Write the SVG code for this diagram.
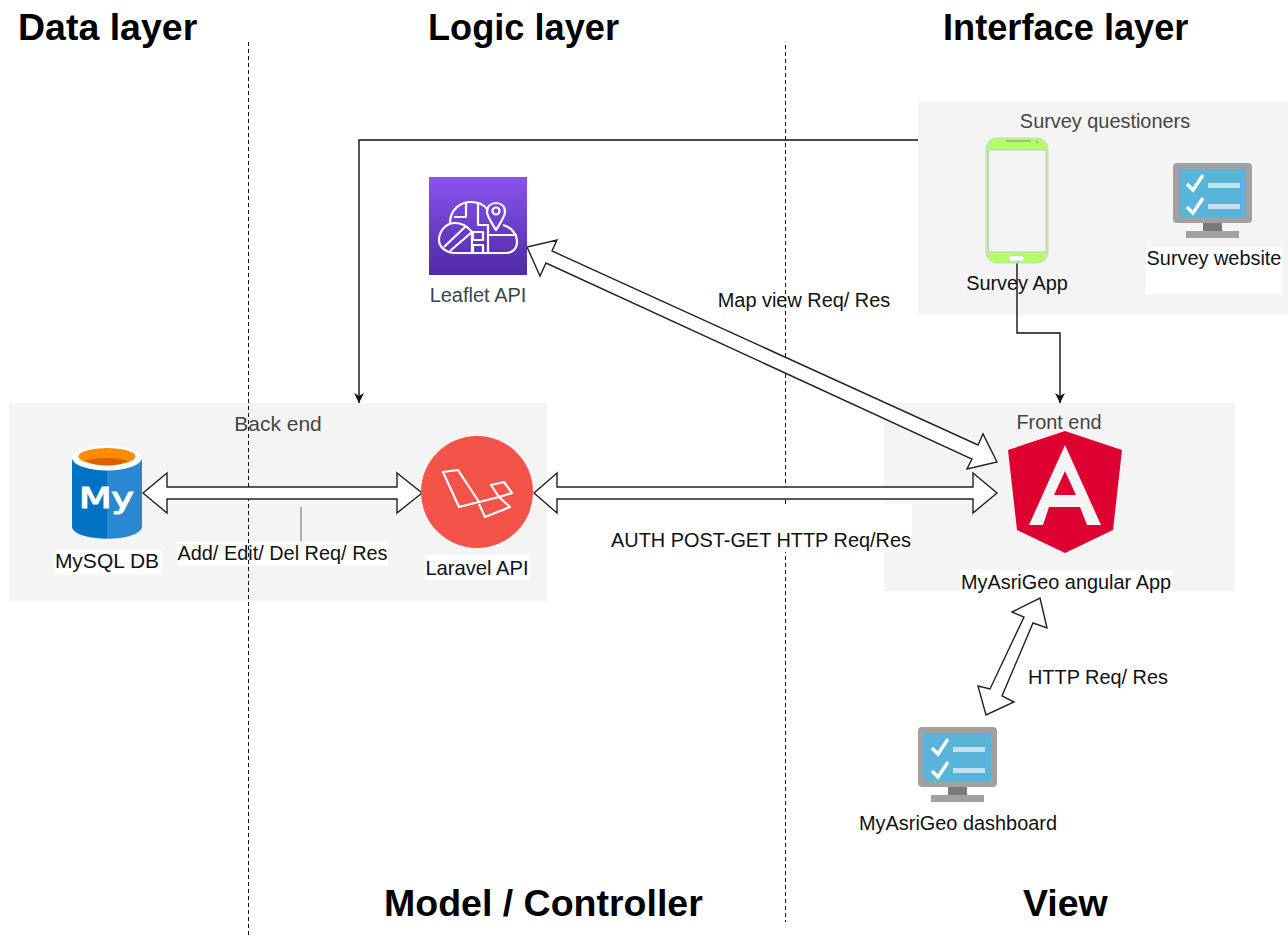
<svg xmlns="http://www.w3.org/2000/svg" xmlns:xlink="http://www.w3.org/1999/xlink" width="1288" height="938" viewBox="0 0 1288 938">
<style>
text{font-family:"Liberation Sans",Arial,sans-serif}
.t{font-size:36.200px;font-weight:700;fill:#000}
.w2{font-size:37.500px}
.l{font-size:19.900px;fill:#111;text-anchor:middle}
.g{font-size:19.900px;fill:#444;text-anchor:middle}
.box{fill:#f4f4f4}
.lab{fill:#fff}
.dash{stroke:#111;stroke-width:1;stroke-dasharray:4 3;fill:none}
.wire{stroke:#111;stroke-width:1.4;fill:none}
.dbl{fill:#fff;stroke:#222;stroke-width:1.4;stroke-linejoin:miter}
.w{fill:none;stroke:#fff;stroke-width:2.2;stroke-linejoin:round}
</style>
<defs>
<marker id="tip" markerWidth="12" markerHeight="12" refX="10" refY="5" orient="auto" markerUnits="userSpaceOnUse" viewBox="0 0 12 10"><path d="M0 0L10 5L0 10L3 5Z" fill="#111"/></marker>
<linearGradient id="pur" x1="0" y1="0" x2="0" y2="1"><stop offset="0" stop-color="#8A53EF"/><stop offset="1" stop-color="#4F2AA6"/></linearGradient>
<g id="mon">
<rect x="0" y="0" width="79" height="60" rx="4" fill="#a0a1a2"/>
<rect x="6" y="6" width="67" height="48" fill="#59b4d9"/>
<rect x="30" y="60" width="19" height="9" fill="#7a7a7a"/>
<rect x="13" y="68" width="53" height="7" fill="#a0a1a2"/>
<path d="M14 21L20 27L30 12M14 44L20 50L30 35" fill="none" stroke="#fff" stroke-width="3.400"/>
<rect x="35" y="20" width="32" height="5" fill="#c4e3f0"/><rect x="35" y="41" width="32" height="5" fill="#c4e3f0"/>
</g>
</defs>

<g id="group-backend"><rect class="box" x="9" y="403" width="538" height="198"/></g>
<g id="group-frontend"><rect class="box" x="884" y="403" width="351" height="188"/></g>
<g id="group-survey"><rect class="box" x="918" y="102" width="370" height="213"/></g>

<g id="titles">
<text class="t w2" x="18" y="40">Data layer</text>
<text class="t" x="428" y="40">Logic layer</text>
<text class="t" x="943" y="40">Interface layer</text>
<text class="t w2" x="384" y="916">Model / Controller</text>
<text class="t w2" x="1023" y="916">View</text>
</g>

<text class="g" x="278" y="431" style="font-size:21px">Back end</text>

<g id="edge-label-add">
<rect class="lab" x="177" y="542" width="211" height="24"/>
<text class="l" x="282.500" y="560">Add/ Edit/ Del Req/ Res</text>
</g>

<g id="dividers">
<path class="dash" d="M248.500 42V937"/>
<path class="dash" d="M785.500 45V922"/>
</g>

<g id="connectors">
<path class="wire" d="M918 140H359V403" marker-end="url(#tip)"/>
<path class="wire" d="M1017 263V333H1060V403" marker-end="url(#tip)"/>
<path d="M301 507V541" stroke="#666" stroke-width="1" fill="none"/>
<polygon class="dbl" points="143,493 167,473 167,487 397,487 397,473 422,493 397,513 397,499 167,499 167,513"/>
<polygon class="dbl" points="534,493 557,473 557,487 973,487 973,473 997,493 973,513 973,499 557,499 557,513"/>
<polygon class="dbl" points="527,247 540,276 546,263 972,459 967,469 997,462 983,434 978,445 552,251 557,240"/>
<polygon class="dbl" points="1040,598 1047,628 1033,623 1002,696 1014,702 986,715 978,686 990,689 1024,617 1012,612"/>
</g>

<g id="mysql">
<path d="M72 459V526C72 543 142 543 142 526V459Z" fill="#2a88d0"/>
<path d="M72 459V526C72 534 90 538 107 538V459Z" fill="#0072c6"/>
<ellipse cx="107" cy="458" rx="35" ry="12.500" fill="#fff"/>
<ellipse cx="107" cy="456.500" rx="28.500" ry="8.500" fill="#ff8c00"/>
<path d="M86 461C95 457 119 457 128 461C119 467 95 467 86 461Z" fill="#dd5f00"/>
<text x="79" y="508" font-size="27.500" fill="#fff" stroke="#fff" stroke-width="1.200" textLength="55" lengthAdjust="spacingAndGlyphs" style="font-family:'DejaVu Sans',sans-serif">My</text>
<rect class="lab" x="54" y="550" width="108" height="25"/>
<text class="l" x="107" y="568" style="font-size:21px">MySQL DB</text>
</g>

<g id="laravel">
<circle cx="477" cy="492" r="56" fill="#f4534a"/>
<path class="w" d="M443 472L458 470L479 502L459 507ZM459 507L499 497L491 485L504 482L512 493L499 497L510 507L485 517L479 504"/>
<rect class="lab" x="425" y="555" width="105" height="25"/>
<text class="l" x="477" y="575" style="font-size:20.200px">Laravel API</text>
</g>

<g id="leaflet">
<rect x="429" y="177" width="98" height="98" fill="url(#pur)"/>
<path class="w" d="M450 223C450 210 460 202 471 202C478 202 484 205 487 209M503 225C511 227 517 234 517 242C517 249 512 253 506 253H455C446 253 439 247 439 240C439 231 446 223 455 223C462 223 468 227 472 232"/>
<path class="w" d="M466 202V217H454M478 204V225H488V253M488 235H517M444 247L466 226M450 251L472 232V253"/>
<rect class="w" x="473" y="232" width="10" height="8"/>
<rect class="w" x="473" y="245" width="10" height="8"/>
<path class="w" d="M496 230C490 220 487 216 487 212C487 206 491 203 496 203C501 203 505 206 505 212C505 216 502 220 496 230Z"/>
<circle cx="496" cy="211" r="3.500" class="w"/>
<text x="478" y="302" font-size="20" fill="#37474f" text-anchor="middle">Leaflet API</text>
</g>

<g id="survey-app">
<rect x="986" y="138" width="62" height="125" rx="11" fill="#b3ff66" stroke="#cfcfcf" stroke-width="1"/>
<rect x="988.500" y="150" width="57.500" height="102" fill="#f4f4f4" stroke="#c8c8c8" stroke-width="1"/>
<rect x="1009" y="256" width="15" height="5" rx="2" fill="#fff" stroke="#bdbdbd" stroke-width="0.500"/>
<rect x="1006" y="140" width="25" height="2" fill="#9bbf7a"/>
<circle cx="1037" cy="142" r="1.500" fill="#9bbf7a"/>
<text class="l" x="1017" y="290">Survey App</text>
</g>
<text class="g" x="1105" y="128">Survey questioners</text>

<g id="survey-website">
<use xlink:href="#mon" href="#mon" x="1173" y="163"/>
<rect class="lab" x="1146" y="247" width="136" height="47"/>
<text class="l" x="1214" y="265">Survey website</text>
</g>

<g id="angular">
<polygon points="1065,431 1122,450 1113,530 1065,553 1017,530 1008,450" fill="#dd0031"/>
<path fill="#f4f4f4" fill-rule="evenodd" d="M1065 445L1101 525H1087L1080 507H1049L1043 525H1029ZM1065 471L1054 495H1076Z"/>
<rect class="lab" x="960" y="570" width="212" height="25"/>
<text class="l" x="1066" y="589">MyAsriGeo angular App</text>
</g>
<text class="g" x="1059" y="429">Front end</text>

<g id="dashboard">
<use xlink:href="#mon" href="#mon" x="918" y="727"/>
<text class="l" x="958" y="830">MyAsriGeo dashboard</text>
</g>

<g id="edge-labels">
<text class="l" x="804" y="307">Map view Req/ Res</text>
<rect class="lab" x="610" y="504" width="302" height="48"/>
<text class="l" x="761" y="547">AUTH POST-GET HTTP Req/Res</text>
<text class="l" x="1098" y="684">HTTP Req/ Res</text>
</g>
</svg>
